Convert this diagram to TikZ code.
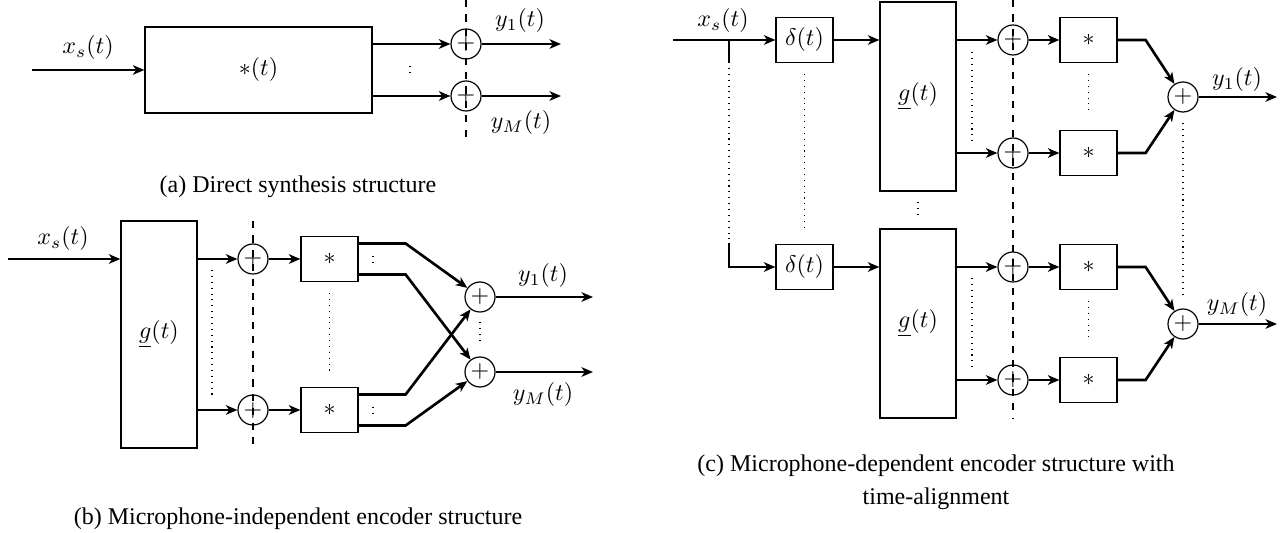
\documentclass[tikz,border=0pt]{standalone}
\usepackage{fontspec}
\newfontfamily\capfont{Liberation Serif}
\usetikzlibrary{arrows.meta,calc}
\begin{document}
\begin{tikzpicture}[x=0.4167pt,y=-0.4167pt,
  blk/.style={draw, line width=0.5pt, inner sep=0pt},
  sumc/.style={circle, draw, line width=0.5pt, inner sep=0pt, minimum size=12.5pt},
  arr/.style={line width=1.1pt, -{Stealth[length=4.8pt,width=4pt,inset=1.4pt]}},
  wire/.style={line width=1.1pt},
  dots/.style={dotted, line width=0.45pt},
  sep/.style={dashed, line width=0.5pt},
  lbl/.style={inner sep=0pt},
  captext/.style={font=\capfont, inner sep=0pt, align=center}]
\useasboundingbox (0,0) rectangle (1283,533);

% ---------------- (a) ----------------
\coordinate (ain) at (32,70);
\node[blk, minimum width=94.6pt, minimum height=35.8pt] (A) at (258.5,70) {$*(t)$};
\node[lbl] (axs) at (88,48) {$x_s(t)$};
\draw[arr] (ain) -- (A);
\coordinate (adt) at (466,0);
\coordinate (adb) at (466,140);
\draw[sep] (adt) -- (adb);
\node[sumc] (as1) at (466,44) {$+$};
\node[sumc] (as2) at (466,96) {$+$};
\draw[arr] (A.east |- as1) -- (as1);
\draw[arr] (A.east |- as2) -- (as2);
\coordinate (ao1) at (561,44);
\coordinate (ao2) at (561,96);
\draw[arr] (as1) -- (ao1);
\draw[arr] (as2) -- (ao2);
\node[lbl] (ay1) at (520,21) {$y_1(t)$};
\node[lbl] (ayM) at (521,123) {$y_M(t)$};
\coordinate (ad1) at (410,66);
\coordinate (ad2) at (410,75);
\draw[dots] (ad1) -- (ad2);
\node[captext] (capa) at (298,187) {(a) Direct synthesis structure};

% ---------------- (b) ----------------
\coordinate (bin) at (8,259);
\node[blk, minimum width=31.7pt, minimum height=94.6pt] (bg) at (159,334.5) {$\underline{g}(t)$};
\node[lbl] (bxs) at (63,239) {$x_s(t)$};
\draw[arr] (bin) -- (bin -| bg.west);
\coordinate (bdt) at (253,221);
\coordinate (bdb) at (253,448);
\draw[sep] (bdt) -- (bdb);
\node[sumc] (bs1) at (253,259) {$+$};
\node[sumc] (bs2) at (253,410) {$+$};
\draw[arr] (bg.east |- bs1) -- (bs1);
\draw[arr] (bg.east |- bs2) -- (bs2);
\node[blk, minimum width=23.75pt, minimum height=18.75pt] (bk1) at (329.5,259) {$*$};
\node[blk, minimum width=23.75pt, minimum height=18.75pt] (bk2) at (329.5,410) {$*$};
\draw[arr] (bs1) -- (bk1);
\draw[arr] (bs2) -- (bk2);
\node[sumc] (bt1) at (480,297) {$+$};
\node[sumc] (bt2) at (480,372) {$+$};
\draw[arr] ($(bk1.east)+(0,-15.5)$) -- ++(47,0) -- (bt1);
\draw[arr] ($(bk1.east)+(0,15.5)$) -- ++(47,0) -- (bt2);
\draw[arr] ($(bk2.east)+(0,-15.5)$) -- ++(47,0) -- (bt1);
\draw[arr] ($(bk2.east)+(0,15.5)$) -- ++(47,0) -- (bt2);
\coordinate (bo1) at (593,297);
\coordinate (bo2) at (593,372);
\draw[arr] (bt1) -- (bo1);
\draw[arr] (bt2) -- (bo2);
\node[lbl] (by1) at (543,276) {$y_1(t)$};
\node[lbl] (byM) at (543,395) {$y_M(t)$};
\draw[dots] (212,270) -- (212,399);
\draw[dots] (329.5,293) -- (329.5,371);
\draw[dots] (480,322) -- (480,345);
\draw[dots] (373,256) -- (373,263);
\draw[dots] (373,407) -- (373,414);
\node[captext] (capb) at (298,519) {(b) Microphone-independent encoder structure};

% ---------------- (c) ----------------
\coordinate (cin) at (673,40);
\coordinate (cbr) at (729,40);
\coordinate (cbr1) at (729,62);
\coordinate (cbr2) at (729,243);
\coordinate (cbr3) at (729,267);
\node[lbl] (cxs) at (723,21) {$x_s(t)$};
\node[blk, minimum width=23.75pt, minimum height=18.75pt] (cd1) at (804.5,40) {$\delta(t)$};
\node[blk, minimum width=23.75pt, minimum height=18.75pt] (cd2) at (804.5,267) {$\delta(t)$};
\draw[arr] (cin) -- (cd1);
\draw[wire] (cbr) -- (cbr1);
\draw[dots] (cbr1) -- (cbr2);
\draw[arr] (cbr2) -- (cbr3) -- (cd2);
\node[blk, minimum width=31.7pt, minimum height=78.75pt] (cg1) at (918,96.5) {$\underline{g}(t)$};
\node[blk, minimum width=31.7pt, minimum height=78.75pt] (cg2) at (918,323.5) {$\underline{g}(t)$};
\draw[arr] (cd1) -- (cd1 -| cg1.west);
\draw[arr] (cd2) -- (cd2 -| cg2.west);
\coordinate (cdt) at (1013,0);
\coordinate (cdb) at (1013,418);
\draw[sep] (cdt) -- (cdb);
\node[sumc] (cs1) at (1013,40) {$+$};
\node[sumc] (cs2) at (1013,153) {$+$};
\node[sumc] (cs3) at (1013,267) {$+$};
\node[sumc] (cs4) at (1013,380) {$+$};
\draw[arr] (cg1.east |- cs1) -- (cs1);
\draw[arr] (cg1.east |- cs2) -- (cs2);
\draw[arr] (cg2.east |- cs3) -- (cs3);
\draw[arr] (cg2.east |- cs4) -- (cs4);
\node[blk, minimum width=23.75pt, minimum height=18.75pt] (ck1) at (1088.5,40) {$*$};
\node[blk, minimum width=23.75pt, minimum height=18.75pt] (ck2) at (1088.5,153) {$*$};
\node[blk, minimum width=23.75pt, minimum height=18.75pt] (ck3) at (1088.5,267) {$*$};
\node[blk, minimum width=23.75pt, minimum height=18.75pt] (ck4) at (1088.5,380) {$*$};
\draw[arr] (cs1) -- (ck1);
\draw[arr] (cs2) -- (ck2);
\draw[arr] (cs3) -- (ck3);
\draw[arr] (cs4) -- (ck4);
\node[sumc] (ct1) at (1183,97) {$+$};
\node[sumc] (ct2) at (1183,324) {$+$};
\draw[arr] (ck1.east) -- ++(28,0) -- (ct1);
\draw[arr] (ck2.east) -- ++(28,0) -- (ct1);
\draw[arr] (ck3.east) -- ++(28,0) -- (ct2);
\draw[arr] (ck4.east) -- ++(28,0) -- (ct2);
\coordinate (co1) at (1277,97);
\coordinate (co2) at (1277,324);
\draw[arr] (ct1) -- (co1);
\draw[arr] (ct2) -- (co2);
\node[lbl] (cy1) at (1237,80) {$y_1(t)$};
\node[lbl] (cyM) at (1237,305) {$y_M(t)$};
\draw[dots] (804.5,74) -- (804.5,228);
\draw[dots] (918,202) -- (918,218);
\draw[dots] (972,52) -- (972,142);
\draw[dots] (972,278) -- (972,368);
\draw[dots] (1088.5,74) -- (1088.5,114);
\draw[dots] (1088.5,301) -- (1088.5,341);
\draw[dots] (1183,123) -- (1183,297);
\node[captext, font={\capfont\fontsize{10}{13.75}\selectfont}] (capc) at (936,482.5) {(c) Microphone-dependent encoder structure with\\time-alignment};
\end{tikzpicture}
\end{document}
